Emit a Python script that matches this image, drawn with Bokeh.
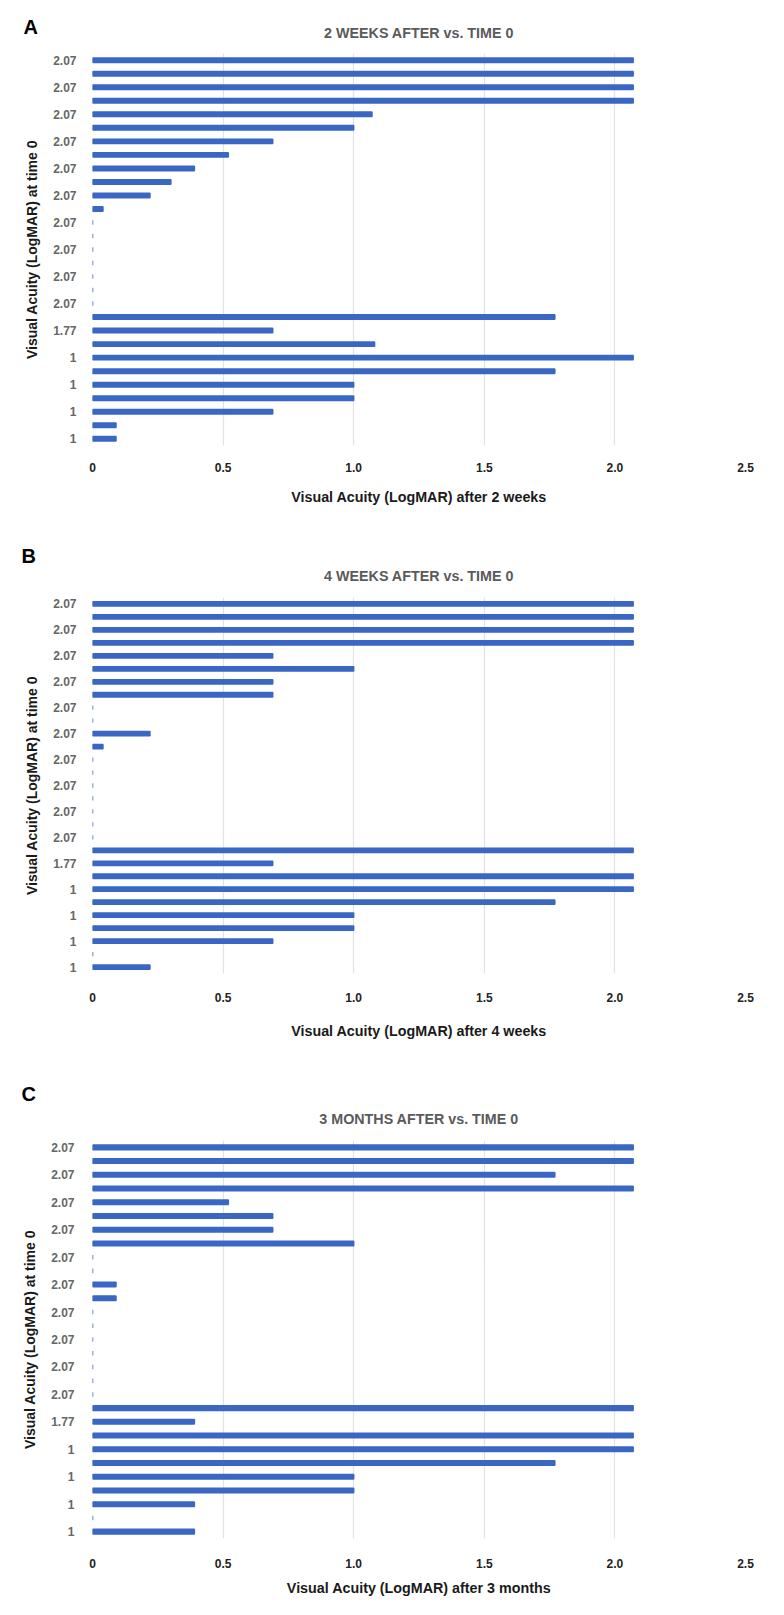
from bokeh.plotting import figure
from bokeh.models import Range1d, FixedTicker, Label, ColumnDataSource
from bokeh.layouts import column
from bokeh.embed import file_html
from bokeh.resources import INLINE

# ---------------- data ----------------
time0_labels = ["2.07", "2.07", "2.07", "2.07", "2.07", "2.07", "2.07", "2.07",
                "2.07", "2.07", "2.07", "2.07", "2.07", "2.07", "2.07", "2.07",
                "2.07", "2.07", "2.07", "2.07", "1.77", "1.77", "1", "1",
                "1", "1", "1", "1", "1"]

after_2_weeks = [2.07, 2.07, 2.07, 2.07, 1.07, 1.0, 0.69, 0.52, 0.39, 0.30,
                 0.22, 0.04, 0, 0, 0, 0, 0, 0, 0, 1.77,
                 0.69, 1.08, 2.07, 1.77, 1.0, 1.0, 0.69, 0.09, 0.09]

after_4_weeks = [2.07, 2.07, 2.07, 2.07, 0.69, 1.0, 0.69, 0.69, 0, 0,
                 0.22, 0.04, 0, 0, 0, 0, 0, 0, 0, 2.07,
                 0.69, 2.07, 2.07, 1.77, 1.0, 1.0, 0.69, 0, 0.22]

after_3_months = [2.07, 2.07, 1.77, 2.07, 0.52, 0.69, 0.69, 1.0, 0, 0,
                  0.09, 0.09, 0, 0, 0, 0, 0, 0, 0, 2.07,
                  0.39, 2.07, 2.07, 1.77, 1.0, 1.0, 0.39, 0, 0.39]

x_ticks = [0, 0.5, 1.0, 1.5, 2.0, 2.5]
x_tick_labels = ["0", "0.5", "1.0", "1.5", "2.0", "2.5"]

panel_letters = ["A", "B", "C"]
panel_titles = ["2 WEEKS AFTER vs. TIME 0", "4 WEEKS AFTER vs. TIME 0",
                "3 MONTHS AFTER vs. TIME 0"]
x_titles = ["Visual Acuity (LogMAR) after 2 weeks",
            "Visual Acuity (LogMAR) after 4 weeks",
            "Visual Acuity (LogMAR) after 3 months"]
y_title = "Visual Acuity (LogMAR) at time 0"
series = [after_2_weeks, after_4_weeks, after_3_months]

# ---------------- layout / style (pixels) ----------------
FONT = "Liberation Sans"
BAR = "#3a67c4"
W = 768
layouts = [
    dict(h=520, left=88, right=17, top=53, bottom=75, ystand=16, xs1=11, xs2=14,
         tstand=26, lx=18, lbase=26),
    dict(h=540, left=91, right=14, top=77, bottom=87, ystand=16, xs1=13, xs2=18,
         tstand=28, lx=19, lbase=35),
    dict(h=539, left=92, right=23, top=80, bottom=61, ystand=18, xs1=14, xs2=9,
         tstand=28, lx=21, lbase=33),
]

figs = []
for k in range(3):
    L = layouts[k]
    vals = series[k]
    n = len(vals)
    p = figure(width=W, height=L["h"], output_backend="svg", toolbar_location=None,
               x_range=Range1d(0, 2.5), y_range=Range1d(n - 0.5, -0.5),
               min_border_left=L["left"], min_border_right=L["right"],
               min_border_top=L["top"], min_border_bottom=L["bottom"])
    p.outline_line_color = None
    p.background_fill_color = "white"

    src = ColumnDataSource(dict(y=list(range(n)), value=vals))
    p.hbar(y="y", left=0, right="value", height=0.33, source=src,
           fill_color=BAR, line_color=BAR, line_width=1.5)

    # title
    p.title.text = panel_titles[k]
    p.title.align = "center"
    p.title.text_font = FONT
    p.title.text_font_size = "14.3px"
    p.title.text_font_style = "bold"
    p.title.text_color = "#5a5a5a"
    p.title.standoff = L["tstand"]

    # grids
    p.ygrid.visible = False
    p.xgrid.grid_line_color = "#e2e2e2"
    p.xgrid.grid_line_width = 1.2

    # x axis
    xa = p.xaxis[0]
    xa.ticker = FixedTicker(ticks=x_ticks)
    xa.major_label_overrides = {t: s for t, s in zip(x_ticks, x_tick_labels)}
    xa.axis_line_color = None
    xa.major_tick_line_color = None
    xa.minor_tick_line_color = None
    xa.major_label_standoff = L["xs1"]
    xa.major_label_text_font = FONT
    xa.major_label_text_font_size = "12px"
    xa.major_label_text_font_style = "bold"
    xa.major_label_text_color = "#222222"
    xa.axis_label = x_titles[k]
    xa.axis_label_text_font = FONT
    xa.axis_label_text_font_size = "14.3px"
    xa.axis_label_text_font_style = "bold"
    xa.axis_label_text_color = "#1a1a1a"
    xa.axis_label_standoff = L["xs2"]

    # y axis
    ya = p.yaxis[0]
    yt = list(range(0, n, 2))
    ya.ticker = FixedTicker(ticks=yt)
    ya.major_label_overrides = {i: time0_labels[i] for i in yt}
    ya.axis_line_color = None
    ya.major_tick_line_color = None
    ya.minor_tick_line_color = None
    ya.major_tick_out = 0
    ya.major_tick_in = 0
    ya.major_label_standoff = L["ystand"]
    ya.major_label_text_font = FONT
    ya.major_label_text_font_size = "12px"
    ya.major_label_text_font_style = "bold"
    ya.major_label_text_color = "#666666"
    ya.axis_label = y_title
    ya.axis_label_text_font = FONT
    ya.axis_label_text_font_size = "14px"
    ya.axis_label_text_font_style = "bold"
    ya.axis_label_text_color = "#1a1a1a"
    ya.axis_label_standoff = 10

    # panel letter, placed in data space left of / above the frame
    frame_w = W - L["left"] - L["right"]
    frame_h = L["h"] - L["top"] - L["bottom"]
    px_x = frame_w / 2.5
    px_y = frame_h / n
    lx = (L["lx"] - L["left"]) / px_x
    ly = -0.5 - (L["top"] - L["lbase"]) / px_y
    p.add_layout(Label(x=lx, y=ly, text=panel_letters[k], text_font=FONT,
                       text_font_size="20px", text_font_style="bold",
                       text_color="black", text_baseline="alphabetic",
                       text_align="left"), "left")
    figs.append(p)

layout = column(*figs)
open("out.html", "w").write(file_html(layout, INLINE))
